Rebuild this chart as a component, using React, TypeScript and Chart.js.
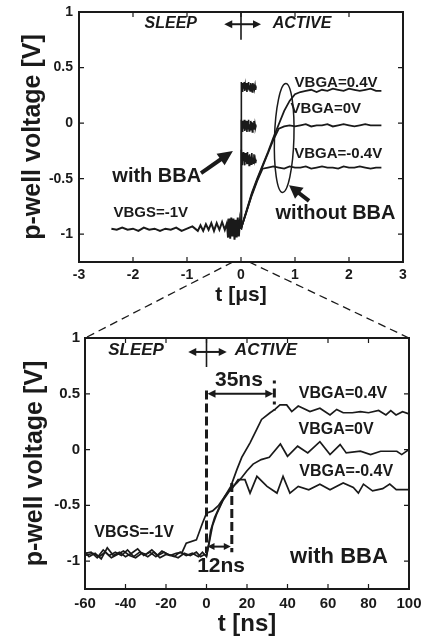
import React, { useEffect, useRef } from "react";
import { Chart, registerables } from "chart.js";

Chart.register(...registerables);

const FONT = "'Liberation Sans', Arial, Helvetica, sans-serif";
const INK = "#1a1a1a";

// ---------------- Top chart (t in µs) ----------------
const topXTicks = [-3, -2, -1, 0, 1, 2, 3];
const yTicks = [-1, -0.5, 0, 0.5, 1];

// common SLEEP baseline (VBGS=-1V)
const sleepT = [-2.4, -2.3, -2.2, -2.1, -2.0, -1.9, -1.8, -1.7, -1.6, -1.5, -1.4, -1.3, -1.2, -1.1, -1.0, -0.9, -0.8, -0.75, -0.7, -0.65, -0.6, -0.55, -0.5, -0.45, -0.4, -0.35, -0.3, -0.26, -0.24, -0.22, -0.2, -0.18, -0.16, -0.14, -0.12, -0.1, -0.08, -0.06, -0.04, -0.02, 0];
const sleepV = [-0.95, -0.96, -0.94, -0.96, -0.95, -0.97, -0.94, -0.96, -0.95, -0.97, -0.95, -0.96, -0.94, -0.97, -0.95, -0.93, -0.97, -0.92, -0.97, -0.91, -0.96, -0.9, -0.97, -0.9, -0.96, -0.89, -0.96, -0.9, -1.03, -0.86, -1.04, -0.85, -1.02, -0.86, -1.05, -0.87, -1.03, -0.85, -1.02, -0.88, -0.95];

// with BBA (fast switch)
const withBBAT = [0, 0.003, 0.01, 0.02, 0.03, 0.04, 0.05, 0.06, 0.07, 0.08, 0.09, 0.1, 0.11, 0.12, 0.13, 0.14, 0.15, 0.16, 0.17, 0.18, 0.19, 0.2, 0.21, 0.22, 0.23, 0.24, 0.25, 0.26, 0.27, 0.28];
const withBBA04V = [-0.95, 0.37, 0.3, 0.36, 0.28, 0.35, 0.31, 0.37, 0.29, 0.34, 0.3, 0.36, 0.28, 0.35, 0.31, 0.37, 0.3, 0.34, 0.29, 0.36, 0.31, 0.35, 0.28, 0.36, 0.3, 0.35, 0.31, 0.34, 0.3, 0.33];
const withBBA0V = [-0.95, 0.03, -0.06, 0.02, -0.08, 0.01, -0.05, 0.03, -0.07, 0.0, -0.06, 0.02, -0.08, 0.01, -0.05, 0.03, -0.07, -0.01, -0.06, 0.02, -0.05, 0.01, -0.08, 0.0, -0.04, 0.02, -0.06, -0.01, -0.04, -0.02];
const withBBAm04V = [-0.95, -0.24, -0.36, -0.27, -0.38, -0.26, -0.34, -0.29, -0.38, -0.27, -0.35, -0.3, -0.37, -0.26, -0.36, -0.29, -0.38, -0.28, -0.34, -0.3, -0.37, -0.27, -0.35, -0.31, -0.36, -0.28, -0.34, -0.32, -0.36, -0.33];

// without BBA (slow rise)
const noBBAT = [0, 0.1, 0.2, 0.3, 0.4, 0.5, 0.6, 0.7, 0.8, 0.9, 1.0, 1.1, 1.2, 1.3, 1.4, 1.5, 1.6, 1.7, 1.8, 1.9, 2.0, 2.1, 2.2, 2.3, 2.4, 2.5, 2.6];
const noBBA04V = [-0.95, -0.79, -0.63, -0.5, -0.38, -0.26, -0.13, -0.01, 0.11, 0.2, 0.26, 0.28, 0.29, 0.3, 0.28, 0.3, 0.29, 0.31, 0.3, 0.29, 0.31, 0.3, 0.29, 0.3, 0.31, 0.29, 0.29];
const noBBA0V = [-0.95, -0.8, -0.64, -0.51, -0.39, -0.27, -0.15, -0.05, -0.03, -0.02, -0.03, -0.02, -0.01, -0.03, -0.02, -0.02, -0.01, -0.03, -0.02, -0.01, -0.02, -0.03, -0.02, -0.01, -0.02, -0.02, -0.02];
const noBBAm04V = [-0.95, -0.8, -0.65, -0.52, -0.41, -0.4, -0.39, -0.4, -0.41, -0.39, -0.4, -0.4, -0.39, -0.41, -0.4, -0.39, -0.4, -0.4, -0.41, -0.39, -0.4, -0.4, -0.39, -0.4, -0.41, -0.4, -0.4];

// ---------------- Bottom chart (t in ns, with BBA) ----------------
const botXTicks = [-60, -40, -20, 0, 20, 40, 60, 80, 100];

const ns04T = [-60, -57, -54, -51, -48, -45, -42, -39, -36, -33, -30, -27, -24, -21, -18, -15, -12, -10, -5, -2, 0, 3, 6, 9, 12, 15, 17.4, 21.5, 24.8, 27.2, 31.4, 33.8, 36.3, 39.6, 42.1, 45.3, 51.1, 56, 61, 64.3, 67.5, 72, 76, 80, 85, 88.6, 91, 93.6, 96.8, 100];
const ns04V = [-0.93, -0.92, -0.97, -0.9, -0.95, -0.92, -0.95, -0.9, -0.96, -0.92, -0.94, -0.9, -0.95, -0.92, -0.95, -0.93, -0.92, -0.84, -0.81, -0.66, -0.57, -0.55, -0.5, -0.42, -0.33, -0.18, -0.07, 0.06, 0.18, 0.27, 0.33, 0.36, 0.4, 0.4, 0.34, 0.39, 0.34, 0.37, 0.31, 0.36, 0.33, 0.33, 0.34, 0.33, 0.35, 0.31, 0.35, 0.31, 0.34, 0.32];

const ns0T = [-60, -58, -55, -52, -49, -46, -43, -40, -37, -34, -31, -28, -25, -22, -19, -16, -13, -10, -7, -4, -2, 0, 1, 2, 4, 6, 9, 12, 15, 17.4, 20, 23, 27, 31, 36.5, 40, 45, 50, 56, 61, 66, 69, 76, 81, 86, 94, 96.4, 100];
const ns0V = [-0.92, -0.96, -0.93, -0.98, -0.88, -0.95, -0.92, -0.96, -0.93, -0.89, -0.95, -0.92, -0.96, -0.91, -0.94, -0.96, -0.92, -0.95, -0.93, -0.96, -0.92, -0.96, -0.86, -0.73, -0.61, -0.53, -0.42, -0.35, -0.3, -0.25, -0.19, -0.13, -0.09, -0.07, 0.05, -0.06, 0.03, -0.03, 0.07, -0.045, 0.045, -0.03, -0.015, -0.045, -0.015, -0.015, -0.045, 0.0];

const nsm04T = [-60, -56, -53, -50, -47, -44, -41, -38, -35, -32, -29, -26, -23, -20, -17, -14, -11, -8, -5, -3, -1, 0, 1.5, 3, 5, 8, 11, 13, 15.6, 19, 21.5, 24.9, 29.9, 34.8, 37.8, 41.2, 45.3, 50.5, 56, 61, 67.5, 72.5, 75, 77.5, 82, 87, 90.5, 93.7, 100];
const nsm04V = [-0.95, -0.93, -0.96, -0.92, -0.97, -0.94, -0.91, -0.95, -0.97, -0.93, -0.96, -0.92, -0.97, -0.94, -0.95, -0.97, -0.93, -0.95, -0.92, -0.96, -0.94, -0.95, -0.82, -0.68, -0.58, -0.46, -0.38, -0.34, -0.27, -0.27, -0.39, -0.24, -0.33, -0.39, -0.24, -0.39, -0.33, -0.36, -0.31, -0.36, -0.3, -0.34, -0.39, -0.31, -0.37, -0.35, -0.31, -0.36, -0.36];

// annotation positions (data coordinates)
const zoomRangeUs = [-0.15, 0.15];
const gap35ns = [0, 33.5];
const gap12ns = [0, 12.5];

// ---------------- helpers ----------------
const pts = (xs: number[], ys: number[]) => xs.map((x, i) => ({ x, y: ys[i] }));

function ds(xs: number[], ys: number[], w: number) {
  return {
    data: pts(xs, ys),
    borderColor: INK,
    borderWidth: w,
    pointRadius: 0,
    fill: false,
    tension: 0,
  };
}

function P(chart: any, x: number, y: number): [number, number] {
  return [chart.scales.x.getPixelForValue(x), chart.scales.y.getPixelForValue(y)];
}

function txt(ctx: CanvasRenderingContext2D, s: string, x: number, y: number, size: number, italic = false) {
  ctx.font = `${italic ? "italic " : ""}bold ${size}px ${FONT}`;
  ctx.textAlign = "center";
  ctx.textBaseline = "middle";
  ctx.fillStyle = INK;
  ctx.fillText(s, x, y);
}

function seg(ctx: CanvasRenderingContext2D, x1: number, y1: number, x2: number, y2: number, w: number, dash: number[] = []) {
  ctx.save();
  ctx.strokeStyle = INK;
  ctx.lineWidth = w;
  ctx.setLineDash(dash);
  ctx.beginPath();
  ctx.moveTo(x1, y1);
  ctx.lineTo(x2, y2);
  ctx.stroke();
  ctx.restore();
}

function head(ctx: CanvasRenderingContext2D, x1: number, y1: number, x2: number, y2: number, len: number, half: number) {
  const a = Math.atan2(y2 - y1, x2 - x1);
  const bx = x2 - len * Math.cos(a);
  const by = y2 - len * Math.sin(a);
  ctx.fillStyle = INK;
  ctx.beginPath();
  ctx.moveTo(x2, y2);
  ctx.lineTo(bx + half * Math.sin(a), by - half * Math.cos(a));
  ctx.lineTo(bx - half * Math.sin(a), by + half * Math.cos(a));
  ctx.closePath();
  ctx.fill();
}

function arrow(ctx: CanvasRenderingContext2D, x1: number, y1: number, x2: number, y2: number, w: number, len: number, half: number) {
  const a = Math.atan2(y2 - y1, x2 - x1);
  seg(ctx, x1, y1, x2 - len * 0.8 * Math.cos(a), y2 - len * 0.8 * Math.sin(a), w);
  head(ctx, x1, y1, x2, y2, len, half);
}

function dblArrow(ctx: CanvasRenderingContext2D, x1: number, y: number, x2: number, w: number, len: number, half: number) {
  seg(ctx, x1 + len * 0.8, y, x2 - len * 0.8, y, w);
  head(ctx, x2, y, x1, y, len, half);
  head(ctx, x1, y, x2, y, len, half);
}

const framePlugin = {
  id: "frame",
  afterDraw(chart: any) {
    const { ctx, chartArea: a, scales } = chart;
    ctx.save();
    ctx.strokeStyle = INK;
    ctx.lineWidth = 1.2;
    const tl = 5;
    scales.x.ticks.forEach((t: any) => {
      const x = scales.x.getPixelForValue(t.value);
      ctx.beginPath();
      ctx.moveTo(x, a.bottom);
      ctx.lineTo(x, a.bottom - tl);
      ctx.moveTo(x, a.top);
      ctx.lineTo(x, a.top + tl);
      ctx.stroke();
    });
    scales.y.ticks.forEach((t: any) => {
      const y = scales.y.getPixelForValue(t.value);
      ctx.beginPath();
      ctx.moveTo(a.left, y);
      ctx.lineTo(a.left + tl, y);
      ctx.moveTo(a.right, y);
      ctx.lineTo(a.right - tl, y);
      ctx.stroke();
    });
    ctx.lineWidth = 2;
    ctx.strokeRect(a.left, a.top, a.right - a.left, a.bottom - a.top);
    ctx.restore();
  },
};

const topNotes = {
  id: "topNotes",
  afterDraw(c: any) {
    const ctx: CanvasRenderingContext2D = c.ctx;
    ctx.save();
    let p = P(c, -1.3, 0.9);
    txt(ctx, "SLEEP", p[0], p[1], 16, true);
    p = P(c, 1.13, 0.9);
    txt(ctx, "ACTIVE", p[0], p[1], 16, true);
    // + marker
    const v1 = P(c, 0, 1), v2 = P(c, 0, 0.75);
    seg(ctx, v1[0], v1[1], v2[0], v2[1], 1.6);
    const h1 = P(c, -0.31, 0.89), h2 = P(c, 0.37, 0.89);
    dblArrow(ctx, h1[0], h1[1], h2[0], 2, 8, 4);
    // labels
    p = P(c, 1.76, 0.36);
    txt(ctx, "VBGA=0.4V", p[0], p[1], 15);
    p = P(c, 1.57, 0.125);
    txt(ctx, "VBGA=0V", p[0], p[1], 15);
    p = P(c, 1.8, -0.28);
    txt(ctx, "VBGA=-0.4V", p[0], p[1], 15);
    p = P(c, -1.67, -0.81);
    txt(ctx, "VBGS=-1V", p[0], p[1], 15);
    p = P(c, -1.56, -0.48);
    txt(ctx, "with BBA", p[0], p[1], 20);
    p = P(c, 1.75, -0.81);
    txt(ctx, "without BBA", p[0], p[1], 20);
    // arrows
    let a = P(c, -0.74, -0.45), b = P(c, -0.15, -0.25);
    arrow(ctx, a[0], a[1], b[0], b[1], 4, 15, 7);
    a = P(c, 1.26, -0.7);
    b = P(c, 0.89, -0.56);
    arrow(ctx, a[0], a[1], b[0], b[1], 4, 13, 7);
    // ellipse around the slow curves
    const ce = P(c, 0.8, -0.134);
    const rx = c.scales.x.getPixelForValue(0.98) - ce[0];
    const ry = c.scales.y.getPixelForValue(-0.134 - 0.49) - ce[1];
    ctx.strokeStyle = INK;
    ctx.lineWidth = 1.5;
    ctx.beginPath();
    ctx.ellipse(ce[0], ce[1], rx, ry, 0.03, 0, Math.PI * 2);
    ctx.stroke();
    ctx.restore();
  },
};

function makeBotNotes(getTop: () => any) {
  return {
    id: "botNotes",
    afterDraw(c: any) {
      const ctx: CanvasRenderingContext2D = c.ctx;
      ctx.save();
      let p = P(c, -34.8, 0.89);
      txt(ctx, "SLEEP", p[0], p[1], 17, true);
      p = P(c, 29.4, 0.89);
      txt(ctx, "ACTIVE", p[0], p[1], 17, true);
      const v1 = P(c, 0, 1), v2 = P(c, 0, 0.74);
      seg(ctx, v1[0], v1[1], v2[0], v2[1], 1.6);
      const h1 = P(c, -9, 0.875), h2 = P(c, 10, 0.875);
      dblArrow(ctx, h1[0], h1[1], h2[0], 2, 8, 4);
      // dashed markers
      let a = P(c, 0, 0.53), b = P(c, 0, -0.93);
      seg(ctx, a[0], a[1], b[0], b[1], 3, [9, 4]);
      a = P(c, gap12ns[1], -0.3);
      b = P(c, gap12ns[1], -0.92);
      seg(ctx, a[0], a[1], b[0], b[1], 3, [9, 4]);
      a = P(c, gap35ns[1], 0.62);
      b = P(c, gap35ns[1], 0.35);
      seg(ctx, a[0], a[1], b[0], b[1], 3, [3, 5, 9, 4]);
      // double arrows
      a = P(c, gap35ns[0], 0.5);
      b = P(c, gap35ns[1], 0.5);
      dblArrow(ctx, a[0] + 1, a[1], b[0] - 1, 2, 8, 4);
      a = P(c, gap12ns[0], -0.87);
      b = P(c, gap12ns[1], -0.87);
      dblArrow(ctx, a[0] + 1, a[1], b[0] - 1, 2, 7, 3.5);
      p = P(c, 16, 0.625);
      txt(ctx, "35ns", p[0], p[1], 21);
      p = P(c, 7.2, -1.05);
      txt(ctx, "12ns", p[0], p[1], 21);
      p = P(c, 67.4, 0.5);
      txt(ctx, "VBGA=0.4V", p[0], p[1], 16);
      p = P(c, 64, 0.18);
      txt(ctx, "VBGA=0V", p[0], p[1], 16);
      p = P(c, 69, -0.2);
      txt(ctx, "VBGA=-0.4V", p[0], p[1], 16);
      p = P(c, -35.8, -0.74);
      txt(ctx, "VBGS=-1V", p[0], p[1], 16);
      p = P(c, 65.4, -0.96);
      txt(ctx, "with BBA", p[0], p[1], 22);
      // zoom lines from the upper chart
      const top = getTop();
      if (top && top.scales && top.scales.x) {
        const tb = top.chartArea.bottom;
        const zl = top.scales.x.getPixelForValue(zoomRangeUs[0]);
        const zr = top.scales.x.getPixelForValue(zoomRangeUs[1]);
        const ca = c.chartArea;
        seg(ctx, zl, tb, ca.left, ca.top, 1.3, [8, 5]);
        seg(ctx, zr, tb, ca.right, ca.top, 1.3, [8, 5]);
      }
      ctx.restore();
    },
  };
}

function axes(opts: {
  xmin: number; xmax: number; xTicks: number[]; xTitle: string; xTitleSize: number; xTitlePad: number; xH: number; tickSize: number; xTickPad: number;
  yW: number; yTitlePad: number; yTickPad: number;
}) {
  const tickFont = { family: FONT, size: opts.tickSize, weight: "bold" as const };
  return {
    x: {
      type: "linear" as const,
      min: opts.xmin,
      max: opts.xmax,
      afterFit: (s: any) => { s.height = opts.xH; s.paddingLeft = 0; s.paddingRight = 0; },
      afterBuildTicks: (s: any) => { s.ticks = opts.xTicks.map((v) => ({ value: v })); },
      ticks: { font: tickFont, color: INK, padding: opts.xTickPad, maxRotation: 0, autoSkip: false, callback: (v: any) => String(v) },
      grid: { display: false, drawTicks: false, tickLength: 0 },
      border: { display: false },
      title: { display: true, text: opts.xTitle, color: INK, font: { family: FONT, size: opts.xTitleSize, weight: "bold" as const, lineHeight: 1 }, padding: { top: 0, bottom: opts.xTitlePad } },
    },
    y: {
      type: "linear" as const,
      min: -1.25,
      max: 1,
      afterFit: (s: any) => { s.width = opts.yW; s.paddingTop = 0; s.paddingBottom = 0; },
      afterBuildTicks: (s: any) => { s.ticks = yTicks.map((v) => ({ value: v })); },
      ticks: { font: tickFont, color: INK, padding: opts.yTickPad, autoSkip: false, callback: (v: any) => String(v) },
      grid: { display: false, drawTicks: false, tickLength: 0 },
      border: { display: false },
      title: { display: true, text: "p-well voltage [V]", color: INK, font: { family: FONT, size: 25, weight: "bold" as const, lineHeight: 1 }, padding: { top: opts.yTitlePad, bottom: 0 } },
    },
  };
}

export default function App() {
  const topRef = useRef<HTMLCanvasElement>(null);
  const botRef = useRef<HTMLCanvasElement>(null);

  useEffect(() => {
    const top = new Chart(topRef.current as HTMLCanvasElement, {
      type: "line",
      data: {
        datasets: [
          ds(sleepT, sleepV, 2),
          ds(noBBAT, noBBA04V, 1.8),
          ds(noBBAT, noBBA0V, 1.8),
          ds(noBBAT, noBBAm04V, 1.8),
          ds(withBBAT, withBBA04V, 1.6),
          ds(withBBAT, withBBA0V, 1.6),
          ds(withBBAT, withBBAm04V, 1.6),
        ],
      },
      options: {
        animation: false,
        responsive: false,
        maintainAspectRatio: false,
        layout: { padding: { left: 0, top: 12, right: 18, bottom: 326 }, autoPadding: false } as any,
        plugins: { legend: { display: false }, tooltip: { enabled: false } },
        scales: axes({ xmin: -3, xmax: 3, xTicks: topXTicks, xTitle: "t [μs]", xTitleSize: 21, xTitlePad: 6.5, xH: 50, tickSize: 14, xTickPad: 5, yW: 79, yTitlePad: 20.5, yTickPad: 6 }) as any,
      },
      plugins: [framePlugin, topNotes],
    });

    const bot = new Chart(botRef.current as HTMLCanvasElement, {
      type: "line",
      data: {
        datasets: [
          ds(ns04T, ns04V, 1.7),
          ds(ns0T, ns0V, 1.7),
          ds(nsm04T, nsm04V, 1.7),
        ],
      },
      options: {
        animation: false,
        responsive: false,
        maintainAspectRatio: false,
        layout: { padding: { left: 0, top: 338, right: 12, bottom: 0 }, autoPadding: false } as any,
        plugins: { legend: { display: false }, tooltip: { enabled: false } },
        scales: axes({ xmin: -60, xmax: 100, xTicks: botXTicks, xTitle: "t [ns]", xTitleSize: 24, xTitlePad: 2, xH: 49, tickSize: 15, xTickPad: 6, yW: 85, yTitlePad: 22.5, yTickPad: 5 }) as any,
      },
      plugins: [framePlugin, makeBotNotes(() => top)],
    });

    return () => {
      bot.destroy();
      top.destroy();
    };
  }, []);

  return (
    <div style={{ position: "fixed", left: 0, top: 0, width: 421, height: 638, background: "#fff" }}>
      <canvas ref={topRef} width={421} height={638} style={{ position: "absolute", left: 0, top: 0 }} />
      <canvas ref={botRef} width={421} height={638} style={{ position: "absolute", left: 0, top: 0 }} />
    </div>
  );
}
